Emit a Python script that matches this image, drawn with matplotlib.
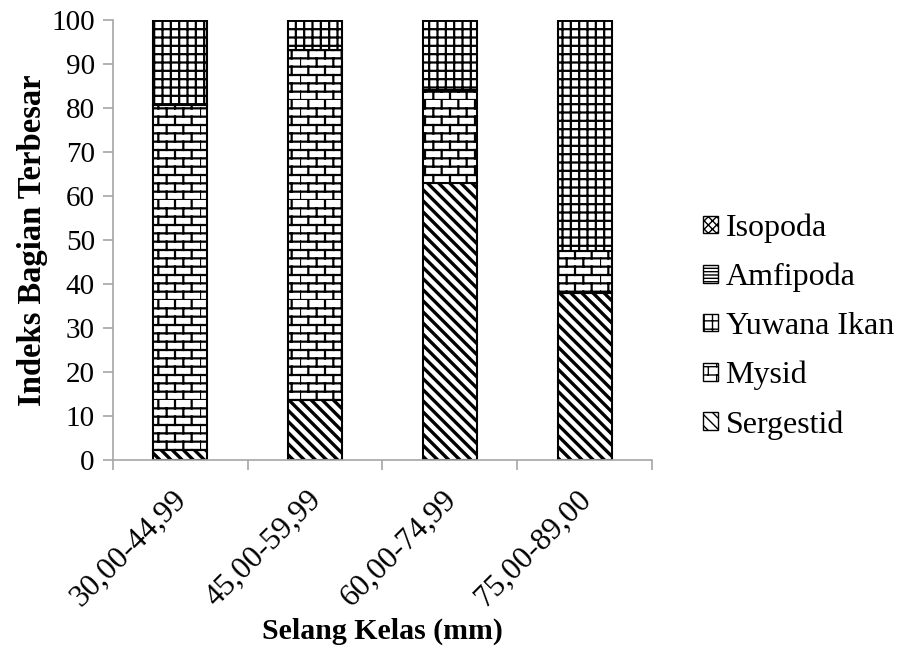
import numpy as np
import matplotlib
matplotlib.use('Agg')
import matplotlib.pyplot as plt
import matplotlib.transforms as mtransforms
from matplotlib import hatch as mhatch
from matplotlib.path import Path
from matplotlib.patches import Patch

categories = ['30,00-44,99', '45,00-59,99', '60,00-74,99', '75,00-89,00']
sergestid = [2.2, 13.6, 63.0, 38.0]
mysid = [78.5, 79.6, 21.0, 9.5]
yuwana_ikan = [19.3, 6.8, 16.0, 52.5]
amfipoda = [0.0, 0.0, 0.0, 0.0]
isopoda = [0.0, 0.0, 0.0, 0.0]


# brick hatch (like the Excel "brick" pattern), triggered with 'b'
class BrickHatch(mhatch.HatchPatternBase):
    def __init__(self, hatch, density):
        n = int(hatch.count('b') * density)
        self.n = n + (n % 2)
        self.num_vertices = 0 if n == 0 else 2 * self.n + self.n * self.n

    def set_vertices_and_codes(self, vertices, codes):
        n = self.n
        h = 1.0 / n
        k = 0
        for i in range(n):
            y = i * h
            vertices[k] = (0.0, y)
            vertices[k + 1] = (1.0, y)
            codes[k] = Path.MOVETO
            codes[k + 1] = Path.LINETO
            k += 2
            off = (i % 2) * h
            for j in range(n // 2):
                xx = j * 2 * h + off
                vertices[k] = (xx, y)
                vertices[k + 1] = (xx, y + h)
                codes[k] = Path.MOVETO
                codes[k + 1] = Path.LINETO
                k += 2


mhatch._hatch_types.append(BrickHatch)
mhatch._validate_hatch_pattern = lambda h: None

plt.rcParams['font.family'] = ['Liberation Serif', 'DejaVu Serif']

# name, values, hatch, hatch line width
series = [
    ('Sergestid', sergestid, '\\\\\\', 2.4),
    ('Mysid', mysid, 'bb', 1.6),
    ('Yuwana Ikan', yuwana_ikan, '++', 1.6),
    ('Amfipoda', amfipoda, '-----', 1.2),
    ('Isopoda', isopoda, 'xxxx', 1.0),
]

fig = plt.figure(figsize=(9.03, 6.53), dpi=100)
ax = fig.add_axes([0.125, 0.2956, 0.597, 0.6738])

x = np.arange(len(categories))
bottom = np.zeros(len(categories))
handles = []
for name, vals, h, hlw in series:
    vals = np.array(vals)
    with plt.rc_context({'hatch.linewidth': hlw}):
        ax.bar(x, vals, 0.4, bottom=bottom, color='white', edgecolor='black',
               hatch=h, linewidth=1.5)
        handles.append(Patch(facecolor='white', edgecolor='black', hatch=h,
                             linewidth=1.0, label=name))
    bottom += vals

ax.set_xlim(-0.5, len(categories) - 0.5)
ax.set_ylim(0, 100)
ax.set_yticks(np.arange(0, 101, 10))
ax.set_xticks(x)
ax.set_xticklabels(categories, rotation=45, ha='right', rotation_mode='anchor')
ax.set_xticks(np.arange(-0.5, len(categories), 1), minor=True)
ax.tick_params(axis='x', which='major', length=0, labelsize=22.5, pad=18)
ax.tick_params(axis='x', which='minor', length=7, color='#a6a6a6', width=1.2)
ax.tick_params(axis='y', length=7, color='#a6a6a6', width=1.2, labelsize=21, pad=6)

# nudge the rotated labels a bit to the left (after tick_params, which resets transforms)
shift = mtransforms.ScaledTranslation(-8 / 100, 0, fig.dpi_scale_trans)
for lab in ax.get_xticklabels():
    lab.set_transform(lab.get_transform() + shift)

for s in ['top', 'right']:
    ax.spines[s].set_visible(False)
for s in ['left', 'bottom']:
    ax.spines[s].set_color('#a6a6a6')
    ax.spines[s].set_linewidth(1.2)

ax.set_ylabel('Indeks Bagian Terbesar', fontsize=23.5, fontweight='bold', labelpad=2)
ax.set_xlabel('Selang Kelas (mm)', fontsize=21.5, fontweight='bold', labelpad=4)

fig.legend(handles[::-1], [hd.get_label() for hd in handles[::-1]],
           loc='center left', bbox_to_anchor=(0.778, 0.5), frameon=False,
           fontsize=23, handlelength=0.47, handleheight=0.47,
           handletextpad=0.25, labelspacing=0.62, borderpad=0,
           borderaxespad=0)

plt.savefig('out.png', dpi=100)
